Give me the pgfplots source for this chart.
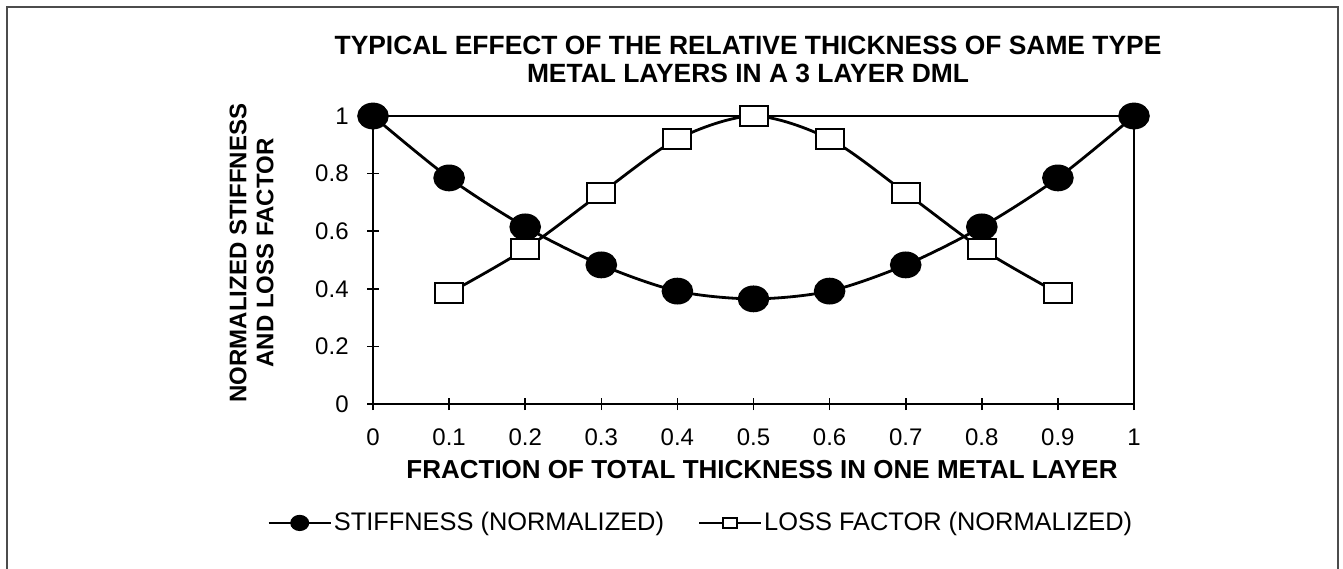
\documentclass[border=0pt]{standalone}
\usepackage{pgfplots}
\pgfplotsset{compat=1.18}
\usepackage{fontspec}
\setmainfont{Liberation Sans}

\begin{document}
\begin{tikzpicture}[x=1pt,y=1pt]
% page size = 1343x568 px at 0.5pt per px
\path[use as bounding box] (0,0) rectangle (671.5,284);
\draw[line width=1pt, draw=black!70] (3.25,-5) -- (3.25,280.25) -- (669,280.25) -- (669,-5);

\begin{axis}[
  at={(186.5pt,82pt)}, anchor=south west,
  scale only axis, width=380.5pt, height=144pt,
  xmin=0, xmax=1, ymin=0, ymax=1,
  xtick={0,0.1,0.2,0.3,0.4,0.5,0.6,0.7,0.8,0.9,1},
  ytick={0,0.2,0.4,0.6,0.8,1},
  xtick pos=left, ytick pos=left,
  tick align=center, major tick length=6pt,
  tick style={line width=0.8pt, black},
  axis line style={line width=1pt},
  clip=false,
  /pgf/number format/assume math mode=true,
  tick label style={font=\fontsize{12}{12}\selectfont},
  xticklabel style={anchor=center, inner sep=0pt, yshift=-13.5pt},
  yticklabel style={anchor=east, inner sep=0pt, xshift=-9pt},
  legend style={draw=none, fill=none, at={(-0.139,-0.413)}, anchor=west,
    legend columns=2, inner sep=0pt, font=\fontsize{12.7}{14}\selectfont,
    nodes={inner xsep=1pt, inner ysep=0pt},
    /tikz/every even column/.append style={column sep=16pt}},
  legend image code/.code={\draw[mark repeat=2,mark phase=2,#1]
    plot coordinates {(0pt,0pt) (15.5pt,0pt) (31pt,0pt)};},
]
\addplot[black, line width=1.4pt, smooth, mark=*, mark size=6pt,
  mark options={xscale=1.2, fill=black},
  legend image post style={mark size=3.5pt, line width=1.1pt}]
  coordinates {(0,1) (0.1,0.785) (0.2,0.615) (0.3,0.483) (0.4,0.392)
    (0.5,0.365) (0.6,0.392) (0.7,0.483) (0.8,0.615) (0.9,0.785) (1,1)};
\addlegendentry{STIFFNESS (NORMALIZED)}
\addplot[black, line width=1.4pt, smooth, mark=square*, mark size=5pt,
  mark options={xscale=1.4, fill=white, line width=1pt},
  legend image post style={mark size=2.5pt, line width=1.1pt}]
  coordinates {(0.1,0.385) (0.2,0.538) (0.3,0.733) (0.4,0.92)
    (0.5,1) (0.6,0.92) (0.7,0.733) (0.8,0.538) (0.9,0.385)};
\addlegendentry{LOSS FACTOR (NORMALIZED)}
\end{axis}

\node[font=\bfseries\fontsize{13.2}{14}\selectfont, align=center] at (374,254.5)
  {TYPICAL EFFECT OF THE RELATIVE THICKNESS OF SAME TYPE\\METAL LAYERS IN A 3 LAYER DML};
\node[rotate=90, font=\bfseries\fontsize{12}{13.5}\selectfont, align=center] at (125.75,157.5)
  {NORMALIZED STIFFNESS\\AND LOSS FACTOR};
\node[font=\bfseries\fontsize{13}{13}\selectfont] at (381,49)
  {FRACTION OF TOTAL THICKNESS IN ONE METAL LAYER};
\end{tikzpicture}
\end{document}
